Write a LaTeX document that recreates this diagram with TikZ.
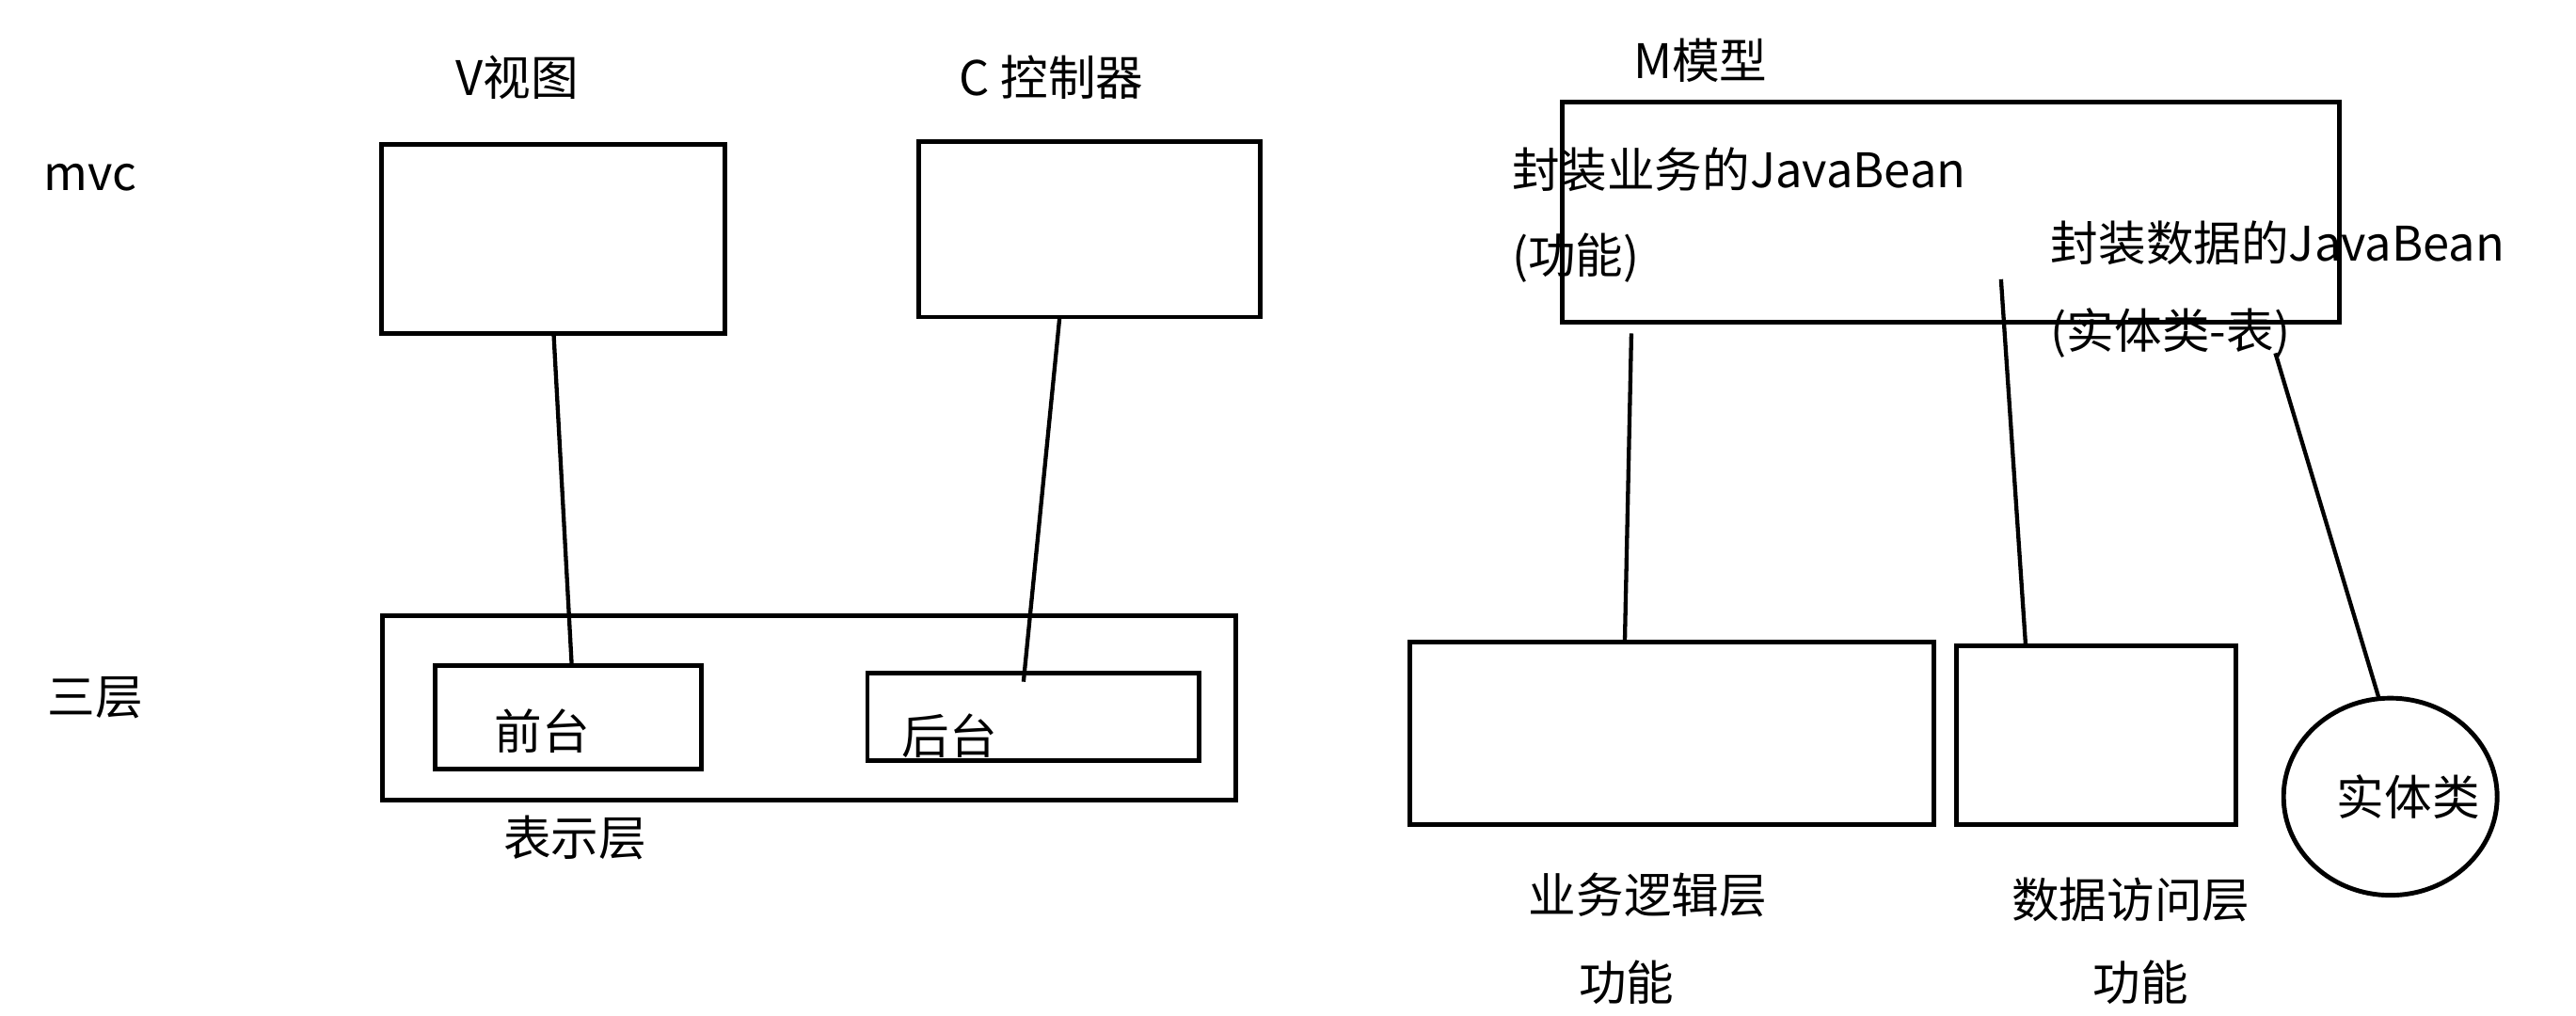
\documentclass[tikz,border=0pt]{standalone}
\usepackage{fontspec}
\setmainfont{Noto Sans CJK SC}
\begin{document}
\begin{tikzpicture}[x=0.02cm,y=-0.02cm,
  bx/.style={draw,line width=1.6pt},
  ln/.style={line width=1.4pt},
  lb/.style={font=\fontsize{16.5}{19}\selectfont,inner sep=0pt}]
\useasboundingbox (0,0) rectangle (1568,618);
\node[lb] at (315,47) {V视图};
\node[lb] at (640,47) {C 控制器};
\node[lb] at (1035,37) {M模型};
\node[lb] at (55,108) {mvc};
\node[lb] at (58,425) {三层};
\draw[bx] (232,88) rectangle (441,203);
\draw[bx] (559,86) rectangle (767,193);
\draw[bx] (951,62) rectangle (1424,196);
\node[lb,anchor=west] at (920,103) {封装业务的JavaBean};
\node[lb,anchor=west] at (920,157) {(功能)};
\node[lb,anchor=west] at (1248,148) {封装数据的JavaBean};
\node[lb,anchor=west] at (1248,203) {(实体类-表)};
\draw[bx] (233,375) rectangle (752,487);
\draw[bx] (265,405) rectangle (427,468);
\draw[bx] (528,410) rectangle (730,463);
\node[lb] at (330,445) {前台};
\node[lb] at (578,448) {后台};
\node[lb] at (350,510) {表示层};
\coordinate (v1) at (337,203); \coordinate (v2) at (348,405);
\coordinate (c1) at (645,193); \coordinate (c2) at (623,415);
\draw[ln] (v1) -- (v2);
\draw[ln] (c1) -- (c2);
\draw[bx] (858,391) rectangle (1177,502);
\draw[bx] (1191,393) rectangle (1361,502);
\draw[line width=1.6pt] (1455,485) ellipse [x radius=65, y radius=60];
\node[lb] at (1466,485) {实体类};
\coordinate (b1) at (993,203); \coordinate (b2) at (989,391);
\coordinate (d1) at (1218,170); \coordinate (d2) at (1233,393);
\coordinate (s1) at (1385,215); \coordinate (s2) at (1448,425);
\draw[ln] (b1) -- (b2);
\draw[ln] (d1) -- (d2);
\draw[ln] (s1) -- (s2);
\node[lb] at (1003,545) {业务逻辑层};
\node[lb] at (990,598) {功能};
\node[lb] at (1297,548) {数据访问层};
\node[lb] at (1303,598) {功能};
\end{tikzpicture}
\end{document}
